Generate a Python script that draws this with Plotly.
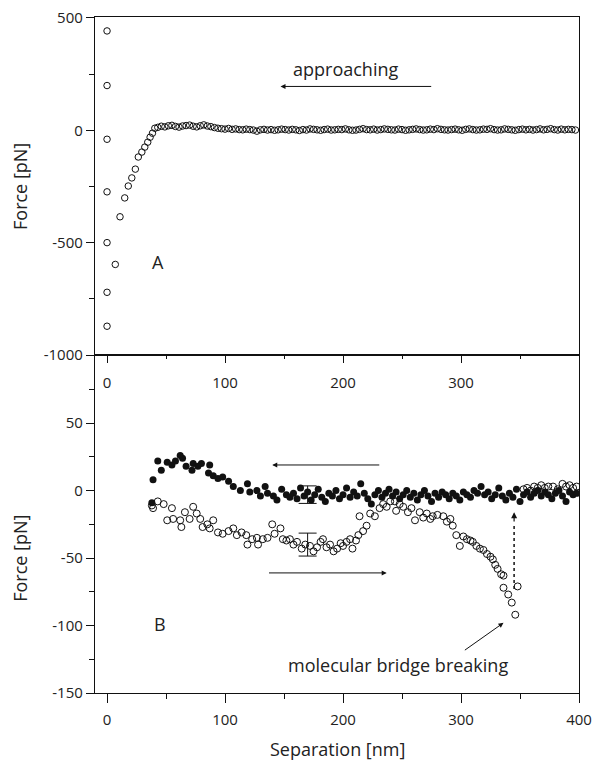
import plotly.graph_objects as go

# ---------------- Panel A data (approach curve) ----------------
a_x_contact = [0, 0, 0, 0, 0, 0, 0, 7, 11, 15, 18, 21, 24, 26.5, 29.5, 32, 34.5, 36.5, 38.5, 40.5, 43]
a_y_contact = [442, 199, -40, -274, -500, -721, -872, -597, -385, -301, -248, -212, -173, -119, -97, -75, -53, -31, -13, 9, 13]

a_x_flat = list(range(46, 400, 3))
a_y_flat = [18, 15, 20, 22, 17, 14, 19, 21, 23, 18, 15, 20, 24, 19, 16, 12, 9, 7, 5, 8, 4, 6, 3, 2,
            5, 3, 1, -4, 2, 4, 1, 3, 0, 2, 5, 3, 1, 4, 2, -1, 3, 1, 6, 4, 2, 0, 3, 5, 1, 2,
            4, 3, 6, 2, 0, 1, 4, 7, 3, 2, 5, 1, 3, 6, 4, 2, 1, 5, 3, 0, 2, 4, 6, 3, 1, 2,
            5, 3, 7, 4, 2, 1, 3, 5, 2, 0, 4, 6, 3, 1, 2, 5, 4, 7, 3, 1, 2, 6, 4, 2, 0, 3,
            5, 2, 4, 1, 3, 6, 2, 4, 7, 3, 1, 5, 2, 4, 3, 1]
a_x = a_x_contact + a_x_flat
a_y = a_y_contact + a_y_flat[:len(a_x_flat)]

# ---------------- Panel B data ----------------
b_app_x = [38, 39, 43, 46, 51, 55, 58, 62, 64, 67, 72, 73, 77, 80, 86, 87, 90, 94, 98, 103, 107, 113,
           119, 121, 127, 130, 134, 136, 141, 144, 148, 152,
           155, 158, 161, 164, 167, 170, 173, 176, 179, 182, 185, 188, 191, 194, 197, 200, 203, 206,
           209, 212, 215, 218, 221, 224, 227, 230, 233, 236, 239, 242, 245, 248, 251, 254, 257, 260,
           263, 266, 269, 272, 275, 278, 281, 284, 287, 290, 293, 296, 299, 302, 305, 308, 311, 314,
           317, 320, 323, 326, 329, 332, 335, 338, 341, 344, 347, 350, 353, 356, 359, 362, 365, 368,
           371, 374, 377, 380, 383, 386, 389, 392, 395, 398]
b_app_y = [-9, 8, 22, 15, 21, 19, 22, 26, 24, 18, 15, 20, 18, 20, 13, 19, 11, 9, 10, 7, 3, 0,
           5, -1, 0, -4, 3, -2, -4, -7, 1, -3,
           -5, -2, -6, 2, -4, -1, -7, -3, 1, -5, -8, -2, -4, 0, -6, -3, 2, -5,
           -1, -4, 5, -2, -6, -10, -3, 0, -5, -2, 1, -4, -1, -6, -3, 0, -5, -2,
           -7, -3, 0, -4, -8, -2, -5, -1, -3, -6, -2, -4, -7, -1, -3, -5, 0, -2,
           3, -3, -1, -6, -3, 2, -4, -7, -2, -5, 1, -8, -3, -1, -5, -2, 0, -4,
           -1, -3, -6, -2, 0, -4, -8, -1, -3, -2]

b_ret_x = [38, 39, 43, 48, 51, 55, 56, 62, 63, 66, 70, 73, 76, 79, 81, 85, 87, 90, 94, 98, 103, 107,
           110, 114, 118, 119, 123, 127, 128, 132, 136, 140, 142, 147, 149, 152, 155, 158, 161, 165,
           168, 172, 175, 178, 181, 183, 186, 189, 192, 195, 198, 200, 203, 206, 208, 211, 213, 214,
           217, 220, 223, 227, 231, 234, 237, 240, 244, 245, 248, 251, 255, 258, 261, 265, 268, 271,
           274, 276, 280, 285, 288, 291, 293, 296, 299, 302, 305, 308, 310, 313, 316, 319, 322, 325,
           327, 329, 331, 334, 336, 336, 340, 343, 346, 348,
           353, 356, 359, 362, 365, 368, 371, 374, 378, 382, 386, 389, 392, 395, 398]
b_ret_y = [-11, -13, -8, -10, -22, -13, -21, -22, -27, -16, -21, -12, -17, -21, -27, -25, -28, -22, -31, -32, -30, -28,
           -33, -31, -33, -40, -36, -35, -40, -36, -35, -25, -32, -28, -36, -37, -36, -40, -38, -43,
           -40, -41, -45, -42, -38, -36, -42, -40, -45, -43, -39, -41, -38, -36, -43, -37, -33, -19,
           -30, -26, -17, -19, -13, -10, -12, -8, -8, -15, -10, -12, -16, -13, -22, -16, -20, -17,
           -21, -19, -18, -19, -23, -21, -26, -33, -41, -34, -36, -37, -38, -41, -43, -44, -47, -49,
           -51, -55, -58, -62, -63, -72, -77, -83, -92, -71,
           1, 2, 0, 3, 2, 4, 2, 3, 3, 1, 5, 3, 4, 2, 3]

# error bars (x, y, +/-)
err_app = [170, -3, 6.5]
err_ret = [170, -40, 8.5]

FONT = "Open Sans"
BLACK = "#111111"

fig = go.Figure()

fig.add_trace(go.Scatter(x=a_x, y=a_y, mode="markers", xaxis="x", yaxis="y",
                         marker=dict(symbol="circle-open", size=6.5, color=BLACK, line=dict(width=1)),
                         showlegend=False, hoverinfo="skip"))

fig.add_trace(go.Scatter(x=b_ret_x, y=b_ret_y, mode="markers", xaxis="x2", yaxis="y2",
                         marker=dict(symbol="circle-open", size=7, color=BLACK, line=dict(width=1)),
                         showlegend=False, hoverinfo="skip"))
fig.add_trace(go.Scatter(x=b_app_x, y=b_app_y, mode="markers", xaxis="x2", yaxis="y2",
                         marker=dict(symbol="circle", size=7, color=BLACK),
                         showlegend=False, hoverinfo="skip"))

for e in (err_app, err_ret):
    fig.add_trace(go.Scatter(x=[e[0]], y=[e[1]], mode="markers", xaxis="x2", yaxis="y2",
                             marker=dict(size=1, color="rgba(0,0,0,0)"),
                             error_y=dict(type="constant", value=e[2], color=BLACK, thickness=1, width=9),
                             showlegend=False, hoverinfo="skip"))

axis_common = dict(showline=True, linecolor=BLACK, linewidth=1.3, mirror=True, showgrid=False,
                   zeroline=False, ticks="outside", tickcolor=BLACK, tickwidth=1.2, automargin=False,
                   ticklabeloverflow="allow",
                   tickfont=dict(family=FONT, size=15, color="#222"))

fig.update_layout(
    width=595, height=764,
    margin=dict(l=95, r=16, t=17, b=71),
    paper_bgcolor="white", plot_bgcolor="white",
    xaxis=dict(domain=[0, 1], anchor="y", range=[-10.2, 400],
               tickvals=[0, 100, 200, 300], ticklen=7, ticklabelstandoff=7,
               minor=dict(tickvals=[50, 150, 250, 350], ticklen=3, ticks="outside", tickcolor=BLACK),
               **axis_common),
    yaxis=dict(domain=[0.5, 1], anchor="x", range=[-1000, 504],
               tickvals=[-1000, -500, 0, 500], ticktext=["-1000", "-500", "0", "500"], ticklen=8,
               minor=dict(tickvals=[-750, -250, 250], ticklen=5, ticks="outside", tickcolor=BLACK),
               **axis_common),
    xaxis2=dict(domain=[0, 1], anchor="y2", range=[-10.2, 400],
                tickvals=[0, 100, 200, 300, 400], ticklen=9, ticklabelstandoff=4,
                minor=dict(tickvals=[50, 150, 250, 350], ticklen=5, ticks="outside", tickcolor=BLACK),
                **axis_common),
    yaxis2=dict(domain=[0, 0.5], anchor="x2", range=[-150, 100.5],
                tickvals=[-150, -100, -50, 0, 50], ticktext=["-150", "-100", "-50", "0", "50"], ticklen=8,
                minor=dict(tickvals=[-125, -75, -25, 25, 75], ticklen=5, ticks="outside", tickcolor=BLACK),
                **axis_common),
)

ann = []
txt = dict(family=FONT, size=18, color="#222")
C = dict(xanchor="center", yanchor="middle", showarrow=False, font=txt)
# axis titles
ann.append(dict(text="Force [pN]", xref="paper", yref="paper", x=-0.155, y=0.75, textangle=-90, **C))
ann.append(dict(text="Force [pN]", xref="paper", yref="paper", x=-0.155, y=0.2, textangle=-90, **C))
ann.append(dict(text="Separation [nm]", xref="paper", yref="paper", x=0.5, y=-0.083, **C))
# panel A
ann.append(dict(text="approaching", xref="x", yref="y", x=202, y=274, **C))
ann.append(dict(text="A", xref="x", yref="y", x=43, y=-584, **C))
ann.append(dict(x=147, y=195, ax=276, ay=195, xref="x", yref="y", axref="x", ayref="y",
                showarrow=True, arrowhead=2, arrowsize=1, arrowwidth=1, arrowcolor=BLACK, text=""))
# panel B
ann.append(dict(text="B", xref="x2", yref="y2", x=45, y=-99, **C))
ann.append(dict(x=140, y=19, ax=232, ay=19, xref="x2", yref="y2", axref="x2", ayref="y2",
                showarrow=True, arrowhead=2, arrowsize=1, arrowwidth=1, arrowcolor=BLACK, text=""))
ann.append(dict(x=237, y=-61, ax=136, ay=-61, xref="x2", yref="y2", axref="x2", ayref="y2",
                showarrow=True, arrowhead=2, arrowsize=1, arrowwidth=1, arrowcolor=BLACK, text=""))
ann.append(dict(text="molecular bridge breaking", xref="x2", yref="y2", x=247, y=-129, **C))
ann.append(dict(x=336, y=-98, ax=302, ay=-119, xref="x2", yref="y2", axref="x2", ayref="y2",
                showarrow=True, arrowhead=2, arrowsize=1, arrowwidth=1, arrowcolor=BLACK, text=""))
ann.append(dict(x=345, y=-16, ax=345, ay=-24, xref="x2", yref="y2", axref="x2", ayref="y2",
                showarrow=True, arrowhead=2, arrowsize=1, arrowwidth=1.2, arrowcolor=BLACK, text=""))
fig.update_layout(annotations=ann)

fig.add_shape(type="line", xref="x2", yref="y2", x0=345, x1=345, y0=-73, y1=-24,
              line=dict(color=BLACK, width=1.5, dash="dot"))

# remove the browser's default 8 px body margin so the 595x764 figure fills the window
fig.write_html("out.html", config={"displayModeBar": False},
               post_script="document.body.style.margin='0';document.body.style.overflow='hidden';")
